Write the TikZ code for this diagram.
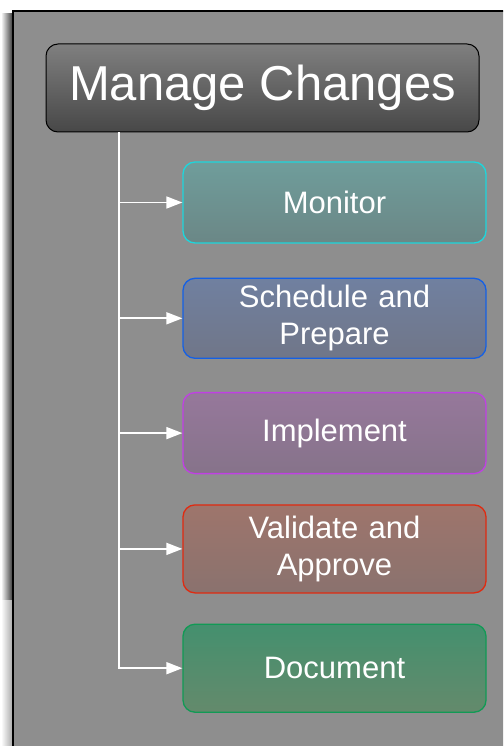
\documentclass[tikz,border=0pt]{standalone}
\usepackage{fontspec}
\setmainfont{Liberation Sans}
\usetikzlibrary{arrows.meta, positioning}
\definecolor{panelgray}{RGB}{142,142,142}
\definecolor{montop}{RGB}{111,157,155}
\definecolor{monbot}{RGB}{107,135,134}
\definecolor{monline}{RGB}{30,214,220}
\definecolor{schtop}{RGB}{112,128,160}
\definecolor{schbot}{RGB}{112,118,136}
\definecolor{schline}{RGB}{20,96,230}
\definecolor{imptop}{RGB}{150,120,155}
\definecolor{impbot}{RGB}{134,115,138}
\definecolor{impline}{RGB}{192,64,228}
\definecolor{valtop}{RGB}{158,117,108}
\definecolor{valbot}{RGB}{138,114,110}
\definecolor{valline}{RGB}{224,42,16}
\definecolor{doctop}{RGB}{68,144,110}
\definecolor{docbot}{RGB}{100,138,108}
\definecolor{docline}{RGB}{17,154,85}
\tikzset{
  rootbox/.style={rectangle, draw=black, top color=black!50, bottom color=black!72,
    minimum width=433pt, minimum height=88pt, rounded corners=12pt, line width=1pt,
    text=white, font=\fontsize{49}{58}\selectfont, inner sep=0pt},
  taskbox/.style={rectangle, rounded corners=12pt, line width=1.3pt,
    minimum width=303pt, text width=290pt, align=center, inner sep=0pt,
    text=white, font=\fontsize{31}{37}\selectfont},
  branch/.style={-{Triangle[length=16pt,width=12pt]}, draw=white, line width=1.7pt}
}

\begin{document}
\begin{tikzpicture}[x=1pt, y=1pt]
  \useasboundingbox (0,0) rectangle (503,-746);
  \clip (0,0) rectangle (503,-746);
  % panel and its shadow
  \fill[left color=white, right color=black!80] (1,-14) rectangle (13,-600);
  \fill[left color=white, right color=black!35] (1,-600) rectangle (13,-746);
  \filldraw[fill=panelgray, draw=black, line width=1.5pt] (13,-11) rectangle (530,-770);

  \node[rootbox] (mc) at (262.5,-88) {Manage Changes};
  \coordinate (trunk) at (119,0);

  \node[taskbox, draw=monline, top color=montop, bottom color=monbot,
    minimum height=81pt] (mon) at (334.5,-202.5) {Monitor};
  \node[taskbox, draw=schline, top color=schtop, bottom color=schbot,
    minimum height=80pt, below=34pt of mon] (sch) {Schedule and\\Prepare};
  \node[taskbox, draw=impline, top color=imptop, bottom color=impbot,
    minimum height=81pt, below=33pt of sch] (imp) {Implement};
  \node[taskbox, draw=valline, top color=valtop, bottom color=valbot,
    minimum height=88pt, below=30pt of imp] (val) {Validate and\\Approve};
  \node[taskbox, draw=docline, top color=doctop, bottom color=docbot,
    minimum height=88pt, below=30pt of val] (doc) {Document};

  \draw[branch] (mc.south -| trunk) |- (mon.west);
  \draw[branch] (mc.south -| trunk) |- (sch.west);
  \draw[branch] (mc.south -| trunk) |- (imp.west);
  \draw[branch] (mc.south -| trunk) |- (val.west);
  \draw[branch] (mc.south -| trunk) |- (doc.west);
\end{tikzpicture}
\end{document}
